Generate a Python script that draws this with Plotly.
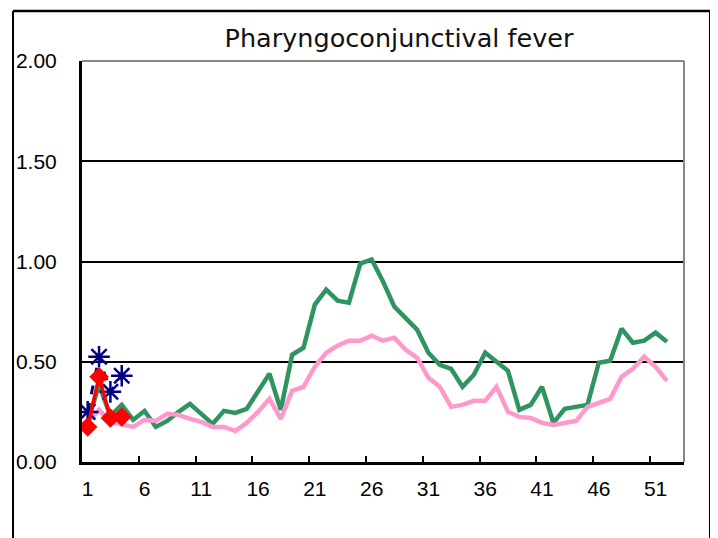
import plotly.graph_objects as go

weeks = list(range(1, 53))
week_ticks = [1, 6, 11, 16, 21, 26, 31, 36, 41, 46, 51]
boundary_ticks = [5.5, 10.5, 15.5, 20.5, 25.5, 30.5, 35.5, 40.5, 45.5, 50.5]

green_vals = [0.20, 0.385, 0.23, 0.285, 0.21, 0.255, 0.175, 0.205, 0.25, 0.29,
              0.24, 0.19, 0.255, 0.245, 0.265, 0.35, 0.44, 0.26, 0.535, 0.57,
              0.785, 0.86, 0.805, 0.795, 0.99, 1.01, 0.90, 0.775, 0.72, 0.66,
              0.545, 0.485, 0.465, 0.375, 0.435, 0.545, 0.50, 0.455, 0.26, 0.285,
              0.375, 0.195, 0.265, 0.275, 0.285, 0.495, 0.505, 0.665, 0.595, 0.605,
              0.645, 0.60]
pink_vals = [0.20, 0.26, 0.20, 0.19, 0.175, 0.21, 0.205, 0.24, 0.235, 0.215,
             0.20, 0.175, 0.175, 0.155, 0.195, 0.25, 0.315, 0.215, 0.355, 0.375,
             0.475, 0.545, 0.58, 0.605, 0.605, 0.63, 0.605, 0.62, 0.56, 0.52,
             0.42, 0.375, 0.275, 0.285, 0.305, 0.305, 0.375, 0.25, 0.225, 0.22,
             0.195, 0.185, 0.195, 0.205, 0.275, 0.295, 0.315, 0.425, 0.465, 0.525,
             0.475, 0.405]
blue_weeks = [1, 2, 3, 4]
blue_vals = [0.25, 0.525, 0.35, 0.43]
red_weeks = [1, 2, 3, 4]
red_vals = [0.175, 0.425, 0.22, 0.225]

FONT = "Liberation Sans, Arial, sans-serif"

fig = go.Figure()
fig.add_trace(go.Scatter(x=weeks, y=green_vals, mode="lines",
                         line=dict(color="#2F9460", width=4.5), name="green"))
fig.add_trace(go.Scatter(x=weeks, y=pink_vals, mode="lines",
                         line=dict(color="#FF99CC", width=4.5), name="pink"))
fig.add_trace(go.Scatter(x=blue_weeks, y=blue_vals, mode="lines+markers",
                         line=dict(color="#000080", width=3, dash="dash"),
                         marker=dict(symbol="asterisk-open", size=18,
                                     line=dict(color="#000080", width=2.5)),
                         name="blue"))
fig.add_trace(go.Scatter(x=red_weeks, y=red_vals, mode="lines+markers",
                         line=dict(color="#FF0000", width=3.5),
                         marker=dict(symbol="diamond", size=15, color="#FF0000"),
                         name="red"))
# invisible trace for boundary tick marks on overlay axis
fig.add_trace(go.Scatter(x=[0.5, 53.5], y=[0, 0], xaxis="x2", mode="lines",
                         line=dict(width=0), hoverinfo="skip", showlegend=False))

# The page keeps its default 8 px body margin, so the figure is 710x530
# and everything is laid out 8 px up/left of the target picture.
W, H = 710, 530
ML, MR, MT, MB = 5, 8, 3, 76
PW, PH = W - ML - MR, H - MT - MB
xdom = [(74 - ML) / PW, (676 - ML) / PW]
ydom = [0, 401 / PH]

fig.update_layout(
    width=W, height=H,
    margin=dict(l=ML, r=MR, t=MT, b=MB, autoexpand=False),
    paper_bgcolor="white", plot_bgcolor="white",
    showlegend=False,
    font=dict(family=FONT, size=21, color="black"),
    title=dict(text="Pharyngoconjunctival fever", x=391 / W, xanchor="center",
               xref="container", y=1 - 30 / H, yanchor="middle",
               font=dict(family="DejaVu Sans, sans-serif", size=25.5, color="#111111")),
    xaxis=dict(domain=xdom, range=[0.5, 53.5], tickmode="array", tickvals=week_ticks,
               ticks="", showgrid=False, zeroline=False,
               showline=True, linecolor="black", linewidth=3,
               ticklabelstandoff=6,
               tickfont=dict(family=FONT, size=21)),
    xaxis2=dict(domain=xdom, range=[0.5, 53.5], overlaying="x", anchor="y", side="bottom",
                tickmode="array", tickvals=boundary_ticks, ticks="inside",
                ticklen=6, tickwidth=2, tickcolor="black",
                showticklabels=False, showgrid=False, zeroline=False,
                showline=False),
    yaxis=dict(domain=ydom, range=[0, 2], tickmode="array", tickvals=[0, 0.5, 1, 1.5, 2],
               tickformat=".2f", ticks="", showgrid=True, gridcolor="black",
               gridwidth=2, zeroline=False, showline=True, linecolor="black",
               linewidth=3, ticklabelstandoff=18,
               tickfont=dict(family=FONT, size=21)),
    shapes=[
        dict(type="line", xref="x domain", yref="y domain", x0=0, x1=1, y0=1, y1=1,
             line=dict(color="#888888", width=2)),
        dict(type="line", xref="x domain", yref="y domain", x0=1, x1=1, y0=0, y1=1,
             line=dict(color="#888888", width=2)),
        dict(type="line", xref="paper", yref="paper", x0=0, x1=1, y0=1, y1=1,
             line=dict(color="black", width=2.5)),
        dict(type="line", xref="paper", yref="paper", x0=0, x1=0, y0=-0.3, y1=1,
             line=dict(color="black", width=2)),
        dict(type="line", xref="paper", yref="paper", x0=1, x1=1, y0=-0.3, y1=1,
             line=dict(color="black", width=2)),
    ],
)

fig.write_html("out.html", config={"displayModeBar": False})
